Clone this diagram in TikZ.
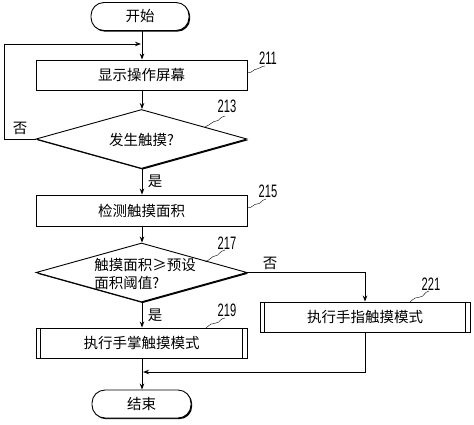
\documentclass[tikz,border=0pt]{standalone}
\usepackage{fontspec}
\setmainfont{Liberation Sans}
\newfontfamily\cjk{Noto Sans CJK SC}
\usetikzlibrary{shapes.geometric,arrows.meta,shadows}
\tikzset{
  base/.style={draw, line width=0.9pt, fill=white, inner sep=0pt,
    drop shadow={shadow xshift=1.2pt, shadow yshift=-1.2pt, fill=black, opacity=1}},
  procbox/.style={base, rectangle, minimum width=211pt, minimum height=30pt},
  termbox/.style={base, rectangle, rounded corners=13pt, minimum width=98pt, minimum height=28pt},
  decbox/.style={base, diamond, minimum width=211pt, minimum height=59pt},
  txt/.style={font=\cjk\fontsize{14.5}{17.5}\selectfont, inner sep=0pt},
  num/.style={inner sep=0pt, font=\fontsize{18}{18}\selectfont},
  conn/.style={line width=0.9pt, -{Stealth[length=6pt,width=4.5pt]}},
  line/.style={line width=0.9pt},
  sq/.style={line width=0.4pt},
}
\newcommand{\numtxt}[1]{\scalebox{0.62}[1]{#1}}
\begin{document}
\begin{tikzpicture}[x=1pt,y=-1pt]
\useasboundingbox (0,0) rectangle (474,424);
% nodes
\node[termbox, txt] (start) at (140,16.5) {开始};
\node[procbox, txt] (b211) at (141.5,75) {显示操作屏幕};
\node[decbox] (d213) at (141.5,139) {};
\node[txt] (t213) at (141.5,140) {发生触摸?};
\node[procbox, txt, minimum height=31pt] (b215) at (141.5,210.5) {检测触摸面积};
\node[decbox] (d217) at (141.5,272.5) {};
\node[txt, align=left] (t217) at (145,274) {触摸面积≥预设\\面积阈值?};
\node[procbox, txt] (b219) at (141.5,343) {执行手掌触摸模式};
\node[procbox, txt, minimum width=210pt] (b221) at (365,317) {执行手指触摸模式};
\node[termbox, txt, minimum width=99pt] (end) at (141.5,404) {结束};
\draw[line] ([xshift=5pt]b219.north west) -- ([xshift=5pt]b219.south west);
\draw[line] ([xshift=-5pt]b219.north east) -- ([xshift=-5pt]b219.south east);
\draw[line] ([xshift=5pt]b221.north west) -- ([xshift=5pt]b221.south west);
\draw[line] ([xshift=-5pt]b221.north east) -- ([xshift=-5pt]b221.south east);
% labels
\node[num] (l211) at (268,58) {\numtxt{211}};
\node[num] (l213) at (227,106) {\numtxt{213}};
\node[num] (l215) at (268,191) {\numtxt{215}};
\node[num] (l217) at (227,243) {\numtxt{217}};
\node[num] (l219) at (227,310) {\numtxt{219}};
\node[num] (l221) at (431,284) {\numtxt{221}};
\node[txt] (no1) at (20,128) {否};
\node[txt] (yes1) at (155,181) {是};
\node[txt] (no2) at (270,263) {否};
\node[txt] (yes2) at (155,315) {是};
% squiggles
\draw[sq] (247,73) .. controls (253,73) and (253,69) .. (257,69) .. controls (261,69) and (260,66) .. (265,66);
\draw[sq] (205,127) .. controls (210,125) and (213,121) .. (216,121) .. controls (220,121) and (219,117) .. (225,116);
\draw[sq] (247,208) .. controls (253,208) and (253,204) .. (257,204) .. controls (261,204) and (261,200) .. (266,199);
\draw[sq] (205,262) .. controls (210,260) and (212,256) .. (215,256) .. controls (219,256) and (219,251) .. (225,250);
\draw[sq] (206,328) .. controls (210,324) and (213,323) .. (216,323) .. controls (220,323) and (220,318) .. (225,318);
\draw[sq] (410,302) .. controls (414,298) and (417,297) .. (420,297) .. controls (424,297) and (424,292) .. (429,291);
% connectors
\coordinate (j1) at (142,44);
\coordinate (j2) at (142,372);
\draw[line] (start.south -| j1) -- (j1);
\draw[conn] (j1) -- (b211.north -| j1);
\draw[conn] (b211.south -| j1) -- (d213.north -| j1);
\draw[conn] (d213.west) -- (4,139) -- (4,44) -- ([xshift=-1pt]j1);
\draw[conn] (d213.south -| j1) -- (b215.north -| j1);
\draw[conn] (b215.south -| j1) -- (d217.north -| j1);
\draw[conn] (d217.east) -| (b221.north);
\draw[conn] (d217.south -| j1) -- (b219.north -| j1);
\draw[line] (b219.south -| j1) -- (j2);
\draw[conn] (j2) -- (end.north -| j1);
\draw[conn] (b221.south) |- ([xshift=1pt]j2);
\end{tikzpicture}
\end{document}
